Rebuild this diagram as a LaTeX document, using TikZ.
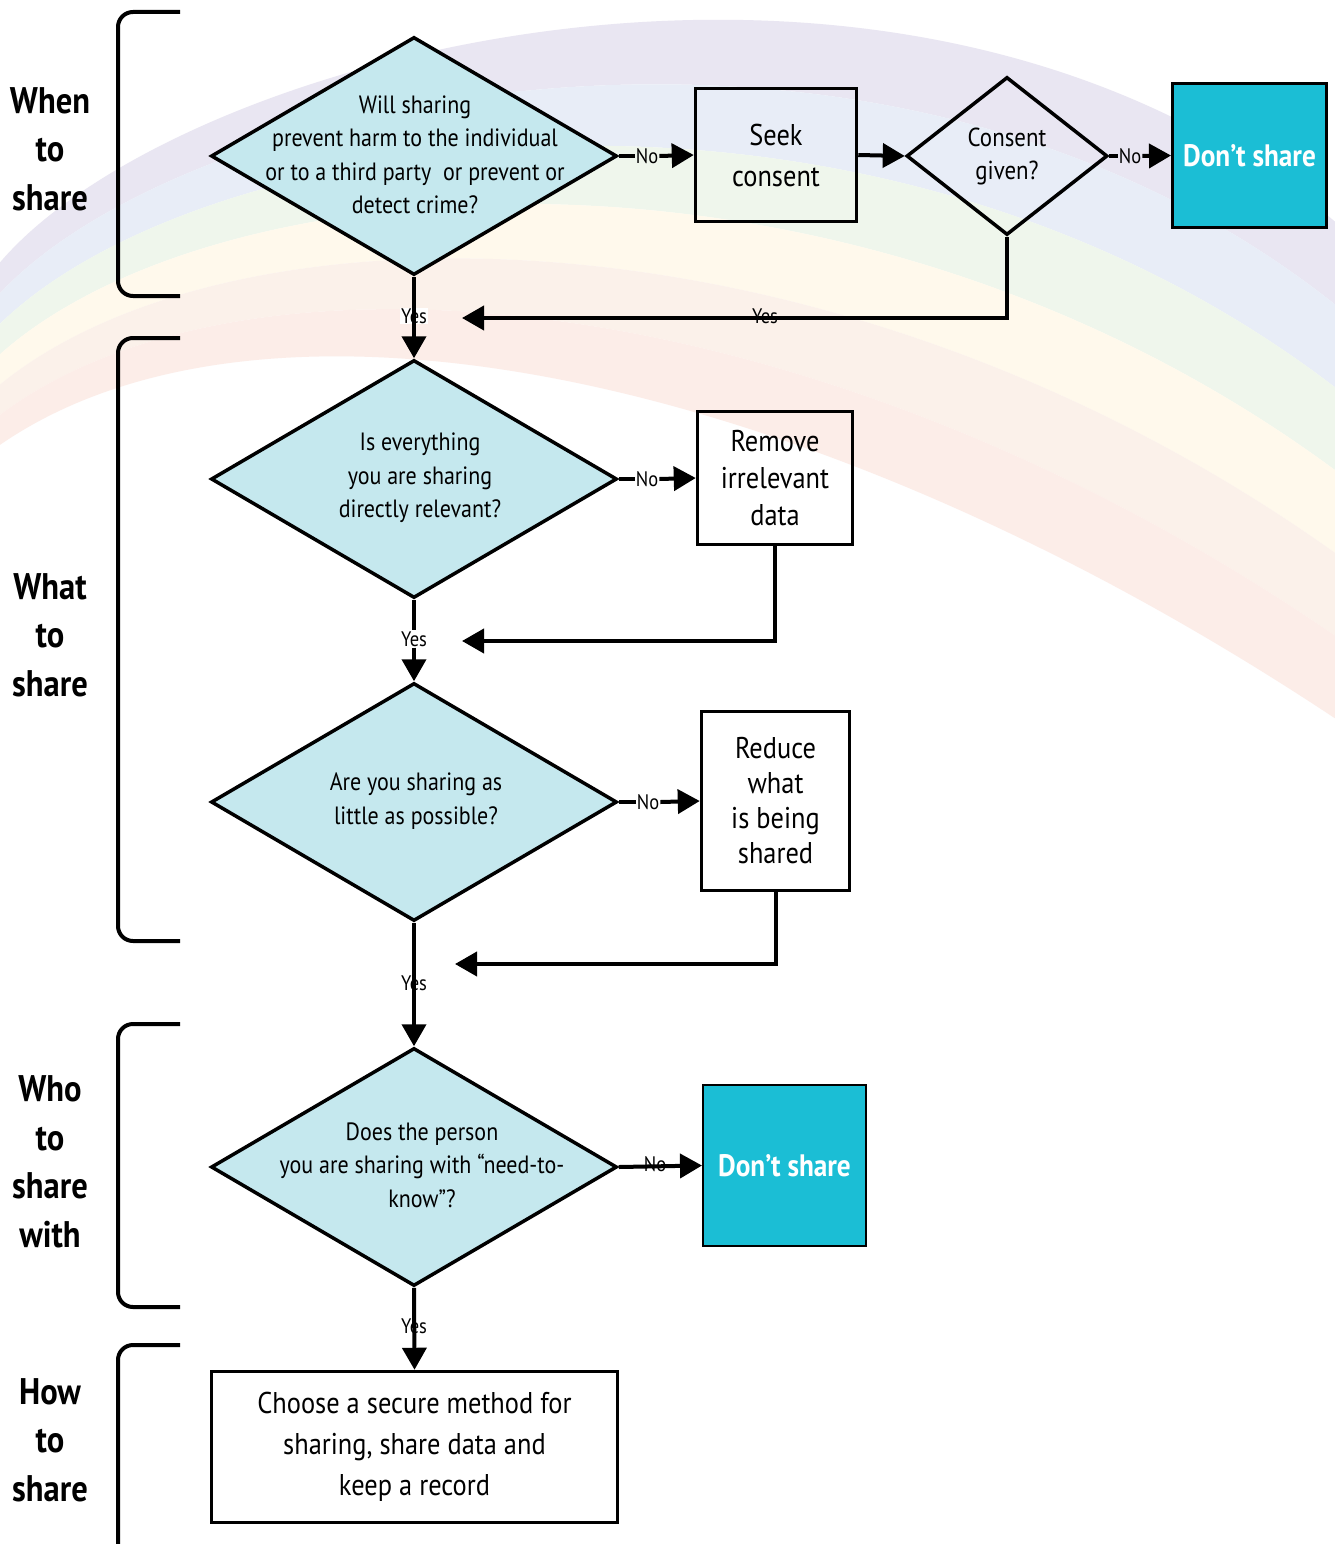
\documentclass[tikz,border=0pt]{standalone}
\usepackage{fontspec}
\setmainfont{PT Sans}[FakeStretch=0.88]
\usetikzlibrary{shapes.geometric,arrows.meta,calc,positioning}
\definecolor{qcyan}{HTML}{C5E8EE}
\definecolor{dcyan}{HTML}{1BBED5}
\definecolor{rbv}{HTML}{E9E6F2}
\definecolor{rbb}{HTML}{E8EDF7}
\definecolor{rbg}{HTML}{EFF6EC}
\definecolor{rby}{HTML}{FFF9EC}
\definecolor{rbo}{HTML}{FBF1EA}
\definecolor{rbr}{HTML}{FCEDE8}
\newcommand{\fsz}[2]{\fontsize{#1}{#2}\selectfont}
\tikzset{
  decision/.style={diamond, draw, line width=3.5pt, fill=qcyan, inner sep=0pt,
    minimum width=406pt, minimum height=238pt},
  qtext/.style={align=center, inner sep=0pt, font=\fsz{25}{33.5}},
  actbox/.style={draw, line width=3.5pt, align=center, inner sep=0pt, font=\fsz{30}{37}},
  stopbox/.style={draw, line width=3pt, fill=dcyan, text=white, align=center,
    inner sep=0pt, font=\bfseries\fsz{31}{36}},
  flow/.style={line width=4pt, -{Triangle[length=22pt,width=24pt]}},
  plain/.style={line width=4pt},
  lbl/.style={inner sep=1pt, font=\fsz{21}{24}},
  bracket/.style={line width=4pt, rounded corners=15pt},
  stage/.style={align=center, font=\bfseries\fsz{37}{48.5}}
}
\begin{document}
\begin{tikzpicture}[x=1pt,y=-1pt,line join=miter]
\fill[white] (0,0) rectangle (1334,1544);
\useasboundingbox (0,0) rectangle (1334,1544);
% rainbow in the background
\coordinate (o0) at (-10,275); \coordinate (o1) at (150,60);
\coordinate (o2) at (900,-150); \coordinate (o3) at (1345,230);
\coordinate (i0) at (-10,452); \coordinate (i1) at (250,260);
\coordinate (i2) at (800,360); \coordinate (i3) at (1345,725);
\foreach \c [count=\k from 0] in {rbv,rbb,rbg,rby,rbo,rbr} {
  \pgfmathsetmacro\a{\k/6}
  \pgfmathsetmacro\b{(\k+1)/6}
  \fill[\c] ($(o0)!\a!(i0)$) .. controls ($(o1)!\a!(i1)$) and ($(o2)!\a!(i2)$) .. ($(o3)!\a!(i3)$)
    -- ($(o3)!\b!(i3)$) .. controls ($(o2)!\b!(i2)$) and ($(o1)!\b!(i1)$) .. ($(o0)!\b!(i0)$) -- cycle;
}
% stages
\draw[bracket] (180,12) -| (118,296) -- (180,296);
\draw[bracket] (180,338) -| (118,941) -- (180,941);
\draw[bracket] (180,1024) -| (118,1307) -- (180,1307);
\draw[bracket] (180,1345) -| (118,1570) -- (180,1570);
\node[stage] (s1) at (50,149) {When\\to\\share};
\node[stage] (s2) at (50,635) {What\\to\\share};
\node[stage] (s3) at (50,1162) {Who\\to\\share\\with};
\node[stage] (s4) at (50,1440) {How\\to\\share};
% decisions
\node[decision] (d1) at (414,156) {};
\node[decision] (d2) at (414,479) {};
\node[decision] (d3) at (414,802) {};
\node[decision] (d4) at (414,1167) {};
\node[qtext] (d1t) at (415,155) {Will sharing\\prevent harm to the individual\\or to a third party\ \ or prevent or\\detect crime?};
\node[qtext] (d2t) at (420,478) {Is everything\\you are sharing\\directly relevant?};
\node[qtext] (d3t) at (416,801) {Are you sharing as\\little as possible?};
\node[qtext] (d4t) at (422,1165) {Does the person\\you are sharing with “need-to-\\know”?};
\node[diamond, draw, line width=3.5pt, inner sep=0pt, minimum width=201pt, minimum height=158pt,
  align=center, font=\fsz{26}{33}] (cons) at (1007,156) {Consent\\given?};
% actions
\node[actbox, minimum width=161pt, minimum height=133pt, font=\fsz{30}{41}] (seek) at (776,155) {Seek\\consent};
\node[actbox, minimum width=155pt, minimum height=133pt] (rem) at (775,478) {Remove\\irrelevant\\data};
\node[actbox, minimum width=148pt, minimum height=179pt, font=\fsz{30}{35}] (red) at (775.5,801) {Reduce\\what\\is being\\shared};
\node[actbox, minimum width=406pt, minimum height=151pt, font=\fsz{30}{41}] (fin) at (414.5,1447) {Choose a secure method for\\sharing, share data and\\keep a record};
\node[stopbox, minimum width=154pt, minimum height=144pt] (stop1) at (1249.5,155.5) {Don’t share};
\node[stopbox, line width=2pt, minimum width=163pt, minimum height=161pt] (stop2) at (784.5,1165.5) {Don’t share};
% labels
\node[lbl] (no1) at (647,156) {No};
\node[lbl] (no2) at (1130,156) {No};
\node[lbl] (no3) at (647,479) {No};
\node[lbl] (no4) at (648,802) {No};
\node[lbl] (no5) at (655,1164) {No};
\node[lbl, fill=white] (y1) at (414,316) {Yes};
\node[lbl] (y2) at (414,639) {Yes};
\node[lbl] (y3) at (414,983) {Yes};
\node[lbl] (y4) at (414,1326) {Yes};
\node[lbl] (y5) at (765,316) {Yes};
\coordinate (m1) at (462,318);
\coordinate (m2) at (462,641);
\coordinate (m3) at (455,964);
% connectors
\draw[plain] (d1.east) -- (no1.west);
\draw[flow] (no1.east) -- (seek.west);
\draw[flow] (seek.east) -- (cons.west);
\draw[plain] (cons.east) -- (no2.west);
\draw[flow] (no2.east) -- (stop1.west);
\draw[flow] (cons.south) |- (m1);
\draw[flow] (d1.south) -- (d2.north);
\draw[plain] (d2.east) -- (no3.west);
\draw[flow] (no3.east) -- (rem.west);
\draw[flow] (rem.south) |- (m2);
\draw[plain] (d2.south) -- (y2.north);
\draw[flow] (y2.south) -- (d3.north);
\draw[plain] (d3.east) -- (no4.west);
\draw[flow] (no4.east) -- (red.west);
\draw[flow] (red.south) |- (m3);
\draw[flow] (d3.south) -- (d4.north);
\draw[flow] (d4.east) -- (stop2.west);
\draw[flow] (d4.south) -- (fin.north);
\end{tikzpicture}
\end{document}
